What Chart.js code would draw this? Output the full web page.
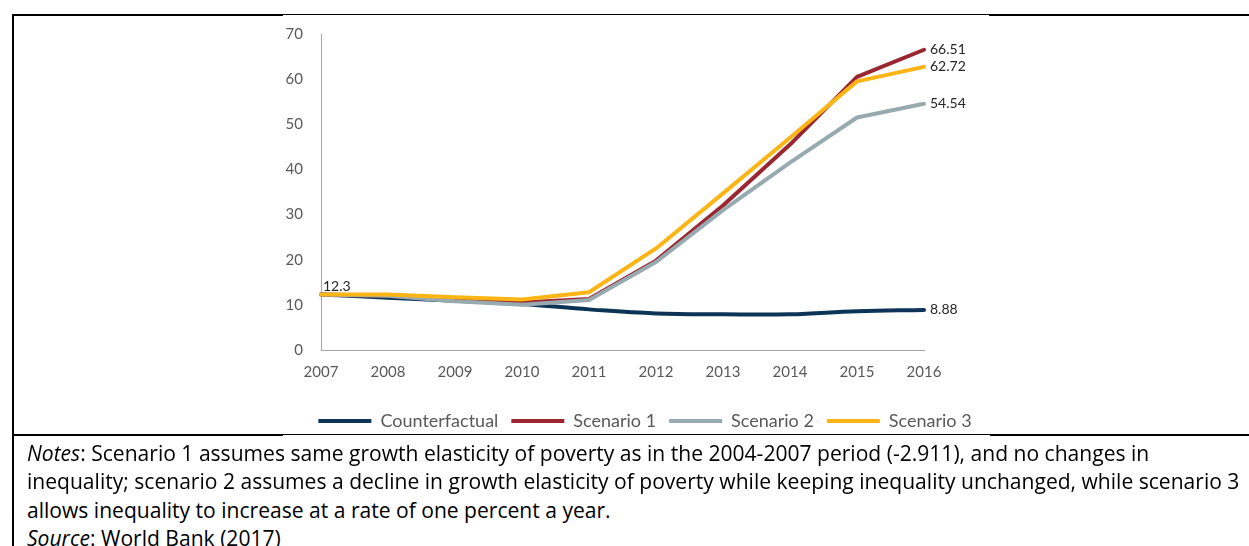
<!DOCTYPE html>
<html>
<head>
<meta charset="utf-8">
<script src="https://cdn.jsdelivr.net/npm/chart.js@4.4.1/dist/chart.umd.min.js"></script>
<style>
  html, body { margin: 0; padding: 0; background: #fff; overflow: hidden; }
  body { width: 1249px; height: 546px; position: relative; }
  #chartBox { position: absolute; left: 0; top: 0; width: 1249px; height: 436px; }
  .rule { position: absolute; background: #000; }
  .note { position: absolute; left: 27px; height: 28px; line-height: 28px;
          font-family: "Open Sans", "Noto Sans", sans-serif; color: #000; white-space: nowrap; }
</style>
</head>
<body>
<div id="chartBox"><canvas id="chart" width="1249" height="436"></canvas></div>

<!-- table rules around the figure cell -->
<div class="rule" style="left:12px;top:14px;width:271px;height:2px"></div>
<div class="rule" style="left:283px;top:14px;width:706px;height:1px"></div>
<div class="rule" style="left:989px;top:14px;width:260px;height:2px"></div>
<div class="rule" style="left:12px;top:14px;width:2px;height:532px"></div>
<div class="rule" style="left:12px;top:434px;width:271px;height:2px"></div>
<div class="rule" style="left:283px;top:434px;width:707px;height:1px"></div>
<div class="rule" style="left:990px;top:434px;width:259px;height:2px"></div>

<div class="note" id="n1" style="top:439px"><i>Notes</i>: Scenario 1 assumes same growth elasticity of poverty as in the 2004-2007 period (-2.911), and no changes in</div>
<div class="note" id="n2" style="top:467px">inequality; scenario 2 assumes a decline in growth elasticity of poverty while keeping inequality unchanged, while scenario 3</div>
<div class="note" id="n3" style="top:496px">allows inequality to increase at a rate of one percent a year.</div>
<div class="note" id="n4" style="top:524px"><i>Source</i>: World Bank (2017)</div>

<script>
// Poverty rate projections, 2007-2016 (%)
const years = ['2007', '2008', '2009', '2010', '2011', '2012', '2013', '2014', '2015', '2016'];
const counterfactual = [12.3, 11.6, 10.9, 10.2, 9.0, 8.1, 7.9, 7.9, 8.6, 8.88];
const scenario1 = [12.3, 12.0, 11.0, 10.5, 11.3, 19.8, 32.0, 45.5, 60.5, 66.51];
const scenario2 = [12.3, 12.0, 10.8, 10.0, 11.1, 19.5, 31.0, 41.5, 51.5, 54.54];
const scenario3 = [12.3, 12.3, 11.7, 11.2, 12.8, 22.5, 34.7, 47.0, 59.5, 62.72];
const seriesNames = ['Counterfactual', 'Scenario 1', 'Scenario 2', 'Scenario 3'];
const yTicks = [0, 10, 20, 30, 40, 50, 60, 70];

// Fit the note lines to the width of the text column
(function fitNotes() {
  const probe = document.createElement('canvas').getContext('2d');
  probe.font = '20px "Open Sans"';
  const w = probe.measureText(document.getElementById('n2').textContent).width;
  const size = 20 * 1213 / w;
  document.querySelectorAll('.note').forEach(el => { el.style.fontSize = size.toFixed(2) + 'px'; });
})();

const COLORS = ['#0C3457', '#9A2631', '#97AAAF', '#FDB515'];
const LEGEND_FONT = 18;
const LEGEND_PAD = 13;

// Value labels at the series ends and the shared starting value
const valueLabels = {
  id: 'valueLabels',
  afterDatasetsDraw(chart) {
    const ctx = chart.ctx;
    ctx.save();
    ctx.font = '14px Lato';
    ctx.fillStyle = '#262626';
    ctx.textAlign = 'left';
    ctx.textBaseline = 'middle';
    chart.data.datasets.forEach((ds, i) => {
      const pts = chart.getDatasetMeta(i).data;
      const last = pts[pts.length - 1];
      ctx.fillText(String(ds.data[ds.data.length - 1]), last.x + 6, last.y);
    });
    const first = chart.getDatasetMeta(0).data[0];
    ctx.fillText(String(counterfactual[0]), first.x + 2, first.y - 8);
    ctx.restore();
  }
};

// Centre the legend row under the figure
const legendPlacement = {
  id: 'legendPlacement',
  afterLayout(chart) {
    const lg = chart.legend;
    const h = lg.bottom - lg.top;
    lg.left = 40;
    lg.right = 1250;
    lg.top = 421 - LEGEND_PAD - LEGEND_FONT / 2;
    lg.bottom = lg.top + h;
  }
};

const series = [counterfactual, scenario1, scenario2, scenario3];
const datasets = series.map((data, i) => ({
  label: seriesNames[i],
  data: data,
  borderColor: COLORS[i],
  backgroundColor: COLORS[i],
  borderWidth: 4,
  pointRadius: 0,
  tension: i === 0 ? 0.4 : 0,
  borderCapStyle: 'round',
  borderJoinStyle: 'round',
  clip: false,
  order: 4 - i
}));

new Chart(document.getElementById('chart'), {
  type: 'line',
  data: { labels: years, datasets: datasets },
  plugins: [valueLabels, legendPlacement],
  options: {
    responsive: false,
    animation: false,
    events: [],
    layout: { padding: { left: 200, right: 325, top: 34, bottom: 0 } },
    scales: {
      x: {
        type: 'category',
        offset: false,
        grid: { display: false, drawTicks: false },
        border: { display: true, color: '#A6A6A6', width: 1 },
        ticks: { color: '#595959', font: { family: 'Lato', size: 15 }, padding: 13, maxRotation: 0, autoSkip: false },
        afterFit(scale) { scale.height = 45; }
      },
      y: {
        min: 0,
        max: 70,
        grid: { display: false, drawTicks: false },
        border: { display: true, color: '#A6A6A6', width: 1 },
        afterBuildTicks(scale) { scale.ticks = yTicks.map(v => ({ value: v })); },
        ticks: { color: '#595959', font: { family: 'Lato', size: 15 }, padding: 18 },
        afterFit(scale) { scale.width = 121; }
      }
    },
    plugins: {
      tooltip: { enabled: false },
      legend: {
        position: 'bottom',
        labels: {
          boxWidth: 53,
          boxHeight: 4,
          padding: LEGEND_PAD,
          color: '#595959',
          font: { family: 'Lato', size: LEGEND_FONT },
          sort: (a, b) => a.datasetIndex - b.datasetIndex,
          generateLabels(chart) {
            return Chart.defaults.plugins.legend.labels.generateLabels(chart)
              .map(item => Object.assign(item, { lineWidth: 0, fillStyle: item.strokeStyle }));
          }
        }
      }
    }
  }
});
</script>
</body>
</html>
